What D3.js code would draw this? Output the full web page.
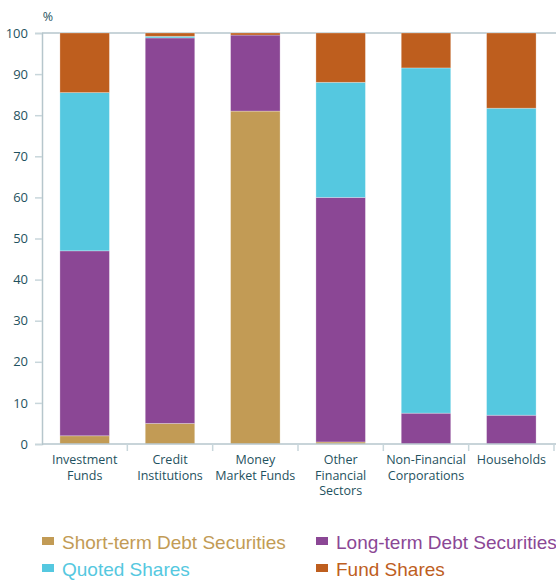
<!DOCTYPE html>
<html>
<head>
<meta charset="utf-8">
<script src="https://cdn.jsdelivr.net/npm/d3@7"></script>
<style>
  body { margin: 0; background: #fff; }
  .tick text { font-family: "Open Sans", sans-serif; fill: #1f5260; }
</style>
</head>
<body>
<script>
// ---------------------- DATA ----------------------
const categories = ["Investment Funds", "Credit Institutions", "Money Market Funds",
  "Other Financial Sectors", "Non-Financial Corporations", "Households"];
const categoryLines = [["Investment", "Funds"], ["Credit", "Institutions"], ["Money", "Market Funds"],
  ["Other", "Financial", "Sectors"], ["Non-Financial", "Corporations"], ["Households"]];
const seriesNames = ["Short-term Debt Securities", "Long-term Debt Securities", "Quoted Shares", "Fund Shares"];
const shortTerm = [2, 5, 81, 0.5, 0, 0];
const longTerm = [45, 93.8, 18.5, 59.5, 7.5, 7];
const quoted = [38.5, 0.4, 0, 28, 84, 74.7];
const fundShares = [14.5, 0.8, 0.5, 12, 8.5, 18.3];
const yTicks = [0, 10, 20, 30, 40, 50, 60, 70, 80, 90, 100];
const colors = ["#c29b55", "#8b4795", "#55c8e0", "#be5e1e"];

// ---------------------- LAYOUT ----------------------
const width = 556, height = 581;
const margin = {top: 33, right: 2, bottom: 137, left: 42};

const svg = d3.select("body").append("svg")
    .attr("width", width)
    .attr("height", height);

const x = d3.scaleBand()
    .domain(categories)
    .range([margin.left, width - margin.right])
    .paddingInner(0.42)
    .paddingOuter(0.21);

const y = d3.scaleLinear()
    .domain([0, 100])
    .range([height - margin.bottom, margin.top]);

const rows = categories.map((c, i) => ({
  cat: c, s0: shortTerm[i], s1: longTerm[i], s2: quoted[i], s3: fundShares[i]
}));
const stack = d3.stack().keys(["s0", "s1", "s2", "s3"])(rows);

// top line at 100
svg.append("line")
    .attr("x1", margin.left).attr("x2", width)
    .attr("y1", y(100)).attr("y2", y(100))
    .attr("stroke", "#b6c6cc").attr("stroke-width", 1.5);

// bars
svg.selectAll(".series")
    .data(stack)
    .enter().append("g")
    .attr("class", "series")
    .attr("fill", (d, i) => colors[i])
    .selectAll("rect")
    .data(d => d)
    .enter().append("rect")
    .attr("x", d => x(d.data.cat))
    .attr("width", x.bandwidth())
    .attr("y", d => y(d[1]))
    .attr("height", d => Math.max(0, y(d[0]) - y(d[1])))
    .attr("stroke", "rgba(255,255,255,0.35)")
    .attr("stroke-width", 0.8);

// y axis
const yAxis = svg.append("g")
    .attr("transform", `translate(${margin.left},0)`)
    .call(d3.axisLeft(y).tickValues(yTicks).tickSize(7).tickPadding(7));
yAxis.select(".domain").attr("stroke", "#b6c6cc").attr("stroke-width", 1.5);
yAxis.selectAll(".tick line").attr("stroke", "#c8d6db").attr("stroke-width", 1.5);
yAxis.selectAll(".tick text").attr("font-size", 13);

// x axis baseline and separators
const base = y(0);
svg.append("line")
    .attr("x1", margin.left).attr("x2", width)
    .attr("y1", base).attr("y2", base)
    .attr("stroke", "#b6c6cc").attr("stroke-width", 1.5);

const step = x.step();
const seps = d3.range(1, categories.length + 1).map(i => x.range()[0] + i * step);
svg.selectAll(".sep")
    .data(seps)
    .enter().append("line")
    .attr("x1", d => d).attr("x2", d => d)
    .attr("y1", base).attr("y2", base + 7)
    .attr("stroke", "#c8d6db").attr("stroke-width", 1.5);

// category labels
svg.selectAll(".cat")
    .data(categoryLines)
    .enter().append("text")
    .attr("class", "cat")
    .attr("text-anchor", "middle")
    .attr("font-family", "'Open Sans', sans-serif")
    .attr("font-size", 12.5)
    .attr("fill", "#1f5260")
    .attr("transform", (d, i) => `translate(${x(categories[i]) + x.bandwidth() / 2},${base + 20})`)
    .selectAll("tspan")
    .data(d => d)
    .enter().append("tspan")
    .attr("x", 0)
    .attr("dy", (d, i) => i === 0 ? 0 : 15.5)
    .text(d => d);

// % label
svg.append("text")
    .attr("x", 48).attr("y", 21)
    .attr("text-anchor", "middle")
    .attr("font-family", "'Open Sans', sans-serif")
    .attr("font-size", 12.5)
    .attr("fill", "#1f5260")
    .text("%");

// legend
const legendPos = [[42, 542], [316, 542], [42, 569], [316, 569]];
const legend = svg.selectAll(".legend")
    .data(seriesNames)
    .enter().append("g")
    .attr("class", "legend")
    .attr("transform", (d, i) => `translate(${legendPos[i][0]},${legendPos[i][1]})`);

legend.append("rect")
    .attr("x", 0).attr("y", -5)
    .attr("width", 12).attr("height", 8)
    .attr("fill", (d, i) => colors[i]);

legend.append("text")
    .attr("x", 20).attr("y", 0)
    .attr("dy", "0.35em")
    .attr("font-family", "'Liberation Sans', Arial, sans-serif")
    .attr("font-size", 19)
    .attr("fill", (d, i) => colors[i])
    .text(d => d);
</script>
</body>
</html>
